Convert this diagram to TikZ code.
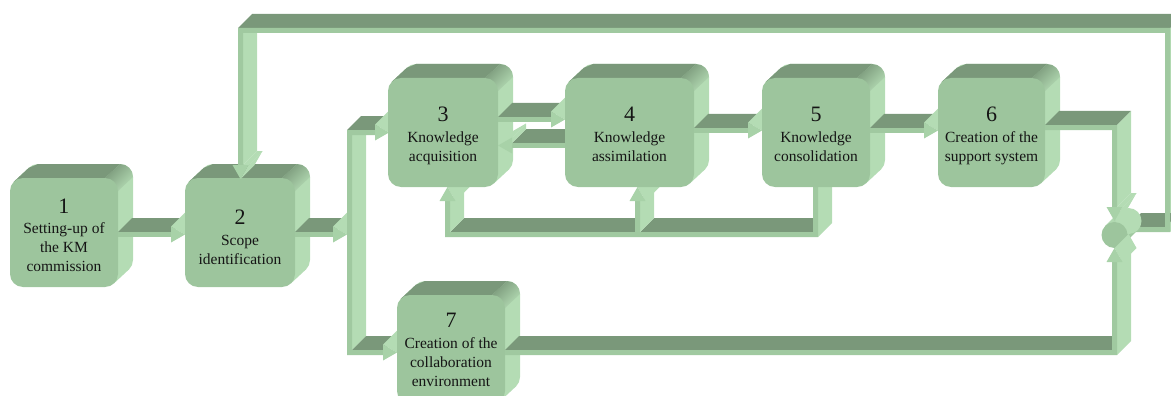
\documentclass[tikz,border=0pt]{standalone}
\usepackage{fontspec}
\setmainfont{Liberation Serif}
\definecolor{frontc}{HTML}{9DC59D}
\definecolor{topc}{HTML}{7A987A}
\definecolor{sidec}{HTML}{B4DCB4}
\definecolor{stripc}{HTML}{A0C9A0}
\definecolor{headc}{HTML}{A8D2A8}
\definecolor{inkc}{HTML}{151515}
\tikzset{
  frontbox/.style={rectangle, rounded corners=13pt, fill=frontc, inner sep=0pt},
  topface/.style={fill=topc},
  sideface/.style={fill=sidec},
  headface/.style={fill=sidec},
  strip/.style={fill=stripc},
  headfront/.style={fill=headc},
  lbl/.style={align=center, anchor=north, inner sep=0pt, text=inkc, font=\fontsize{15.5}{19}\selectfont},
}
\newcommand\bnum[2]{{\fontsize{22}{22}\selectfont #1}\\[#2]}
% top face of a horizontal ribbon: xa xb y
\newcommand\topf[3]{\fill[topface] (#1,#3) -- (#2,#3) -- (#2+14,#3-14) -- (#1+14,#3-14) -- cycle;}
% side face of a vertical ribbon: x ya yb
\newcommand\sidef[3]{\fill[sideface] (#1,#2) -- (#1,#3) -- (#1+14,#3-14) -- (#1+14,#2-14) -- cycle;}
% extruded face of an arrowhead edge
\newcommand\edgef[4]{\fill[headface] (#1,#2) -- (#3,#4) -- (#3+14,#4-14) -- (#1+14,#2-14) -- cycle;}
% 3D box: x0 y0 x1 y1 name
\newcommand\cube[5]{%
  \fill[sidec, rounded corners=13pt] (#1+15,#2-14) rectangle (#3+15,#4-14);
  \fill[sidec] (#1+3.8,#2+3.8) -- (#1+18.8,#2-10.2) -- (#3+11.2,#4-17.8) -- (#3-3.8,#4-3.8) -- cycle;
  \fill[topc] (#1+3.8,#2+3.8) -- (#1+18.8,#2-10.2) -- (#1+28,#2-14) -- (#3+2,#2-14) -- (#3-13,#2) -- (#3-13,#2+13) -- (#1+13,#2+13) -- cycle;
  \begin{scope}
    \clip[rounded corners=13pt] (#1+15,#2-14) rectangle (#3+15,#4-14);
    \shade[top color=topc, bottom color=sidec, shading angle=45] (#3-13,#2) -- (#3+2,#2-14) -- (#3+15,#2-14) -- (#3+15,#2-1) -- (#3,#2+13) -- cycle;
  \end{scope}
  \node[frontbox, minimum width={(#3-#1)*1pt}, minimum height={(#4-#2)*1pt}] (#5) at ({(#1+#3)/2},{(#2+#4)/2}) {};
}
\begin{document}
\begin{tikzpicture}[x=1pt, y=-1pt]
\useasboundingbox (0,0) rectangle (1171,396);
\clip (0,0) rectangle (1171,396);

% feedback loop: box 5 -> boxes 3 and 4
\topf{450}{635}{232}
\topf{640}{813}{232}
\sidef{818}{187}{237}
\sidef{450}{201}{232}
\sidef{640}{201}{232}
\edgef{447.5}{187}{455.5}{201}
\edgef{637.5}{187}{645.5}{201}
\fill[strip] (813,187) -- (818,187) -- (818,237) -- (445,237) -- (445,201) -- (450,201) -- (450,232) -- (635,232) -- (635,201) -- (640,201) -- (640,232) -- (813,232) -- cycle;
\fill[headfront] (439.5,201) -- (455.5,201) -- (447.5,187) -- cycle;
\fill[headfront] (629.5,201) -- (645.5,201) -- (637.5,187) -- cycle;

% box 1
\cube{10}{178}{118}{287}{b1}
% 1 -> 2
\topf{118}{171}{232}
\edgef{171}{226.5}{185}{234.5}
\fill[strip] (118,232) rectangle (171,237);
\fill[headfront] (171,226.5) -- (185,234.5) -- (171,242.5) -- cycle;
% box 2
\cube{185}{178}{295}{287}{b2}
% 2 -> bar
\topf{295}{333}{232}
\edgef{333}{226.5}{347}{234.5}
\fill[strip] (295,232) rectangle (333,237);
\fill[headfront] (333,226.5) -- (347,234.5) -- (333,242.5) -- cycle;
% bar -> 3 and 7
\sidef{352}{135}{350}
\topf{347}{375}{130}
\topf{352}{383}{350}
\edgef{375}{124.5}{389}{132.5}
\edgef{383}{344.5}{397}{352.5}
\fill[strip] (347,130) -- (375,130) -- (375,135) -- (352,135) -- (352,350) -- (383,350) -- (383,355) -- (347,355) -- cycle;
\fill[headfront] (375,124.5) -- (389,132.5) -- (375,140.5) -- cycle;
\fill[headfront] (383,344.5) -- (397,352.5) -- (383,360.5) -- cycle;
% box 3
\cube{388}{78}{498}{187}{b3}
% 4 -> 3
\topf{512}{565}{143}
\edgef{498}{145.5}{512}{137.5}
\edgef{512}{137.5}{512}{143}
\fill[strip] (512,143) rectangle (565,148);
\fill[headfront] (512,137.5) -- (498,145.5) -- (512,153.5) -- cycle;
% 3 -> 4
\topf{498}{551}{117}
\edgef{551}{111.5}{565}{119.5}
\fill[strip] (498,117) rectangle (551,122);
\fill[headfront] (551,111.5) -- (565,119.5) -- (551,127.5) -- cycle;
% box 4
\cube{565}{78}{694}{187}{b4}
% 4 -> 5
\topf{694}{748}{128}
\edgef{748}{122.5}{762}{130.5}
\fill[strip] (694,128) rectangle (748,133);
\fill[headfront] (748,122.5) -- (762,130.5) -- (748,138.5) -- cycle;
% box 5
\cube{762}{78}{870}{187}{b5}
% 5 -> 6
\topf{870}{924}{128}
\edgef{924}{122.5}{938}{130.5}
\fill[strip] (870,128) rectangle (924,133);
\fill[headfront] (924,122.5) -- (938,130.5) -- (924,138.5) -- cycle;
% box 6
\cube{938}{78}{1045}{187}{b6}
% box 7
\cube{397}{295}{505}{404}{b7}

% top loop: junction -> box 2
\sidef{243}{33}{165}
\sidef{1170}{28}{232}
\topf{238}{1170}{28}
\topf{1127}{1165}{227}
\edgef{243}{165}{248.5}{165}
\edgef{248.5}{165}{240.5}{179}
\fill[strip] (1127,227) -- (1165,227) -- (1165,33) -- (243,33) -- (243,165) -- (238,165) -- (238,28) -- (1170,28) -- (1170,232) -- (1127,232) -- cycle;
\fill[headfront] (232.5,165) -- (248.5,165) -- (240.5,179) -- cycle;

% junction
\shade[top color=sidec, bottom color=frontc, shading angle=45] (1105.3,225.8) -- (1119.3,211.8) -- (1137.7,230.2) -- (1123.7,244.2) -- cycle;
\fill[sidec] (1128.5,221) circle[radius=13pt];
\node[circle, fill=frontc, minimum size=26pt, inner sep=0pt] (jn) at (1114.5,235) {};

% 6 -> junction
\topf{1045}{1117}{125}
\sidef{1117}{125}{207}
\edgef{1117}{207}{1122.5}{207}
\edgef{1122.5}{207}{1114.5}{221}
\fill[strip] (1045,125) -- (1117,125) -- (1117,207) -- (1112,207) -- (1112,130) -- (1045,130) -- cycle;
\fill[headfront] (1106.5,207) -- (1122.5,207) -- (1114.5,221) -- cycle;
% 7 -> junction
\topf{505}{1112}{350}
\sidef{1117}{262}{355}
\edgef{1114.5}{248}{1122.5}{262}
\fill[strip] (505,350) -- (1112,350) -- (1112,262) -- (1117,262) -- (1117,355) -- (505,355) -- cycle;
\fill[headfront] (1106.5,262) -- (1122.5,262) -- (1114.5,248) -- cycle;

% texts
\node[lbl] (t1) at (64,198.3) {\bnum{1}{1pt}Setting-up of\\the KM\\commission};
\node[lbl] (t2) at (240,210) {\bnum{2}{1.5pt}Scope\\identification};
\node[lbl] (t3) at (443,107) {\bnum{3}{2pt}Knowledge\\acquisition};
\node[lbl] (t4) at (629.5,107) {\bnum{4}{2pt}Knowledge\\assimilation};
\node[lbl] (t5) at (816,107) {\bnum{5}{2pt}Knowledge\\consolidation};
\node[lbl] (t6) at (991.5,107) {\bnum{6}{2pt}Creation of the\\support system};
\node[lbl] (t7) at (451,313.3) {\bnum{7}{1.5pt}Creation of the\\collaboration\\environment};
\end{tikzpicture}
\end{document}
